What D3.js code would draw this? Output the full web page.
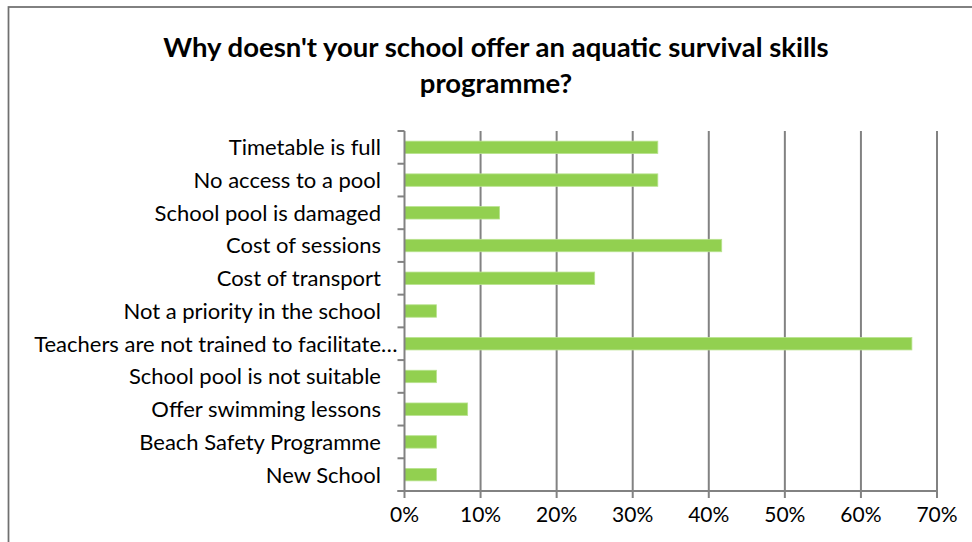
<!DOCTYPE html>
<html>
<head>
<meta charset="utf-8">
<script src="https://cdn.jsdelivr.net/npm/d3@7"></script>
<style>
  html, body { margin: 0; padding: 0; background: #fff; }
  svg { display: block; }
  text { font-family: Lato, "Open Sans", sans-serif; fill: #000; }
</style>
</head>
<body>
<svg id="chart" width="972" height="542"></svg>
<script>
// Survey responses: reasons schools give for not running the programme
const categories = [
  "Timetable is full",
  "No access to a pool",
  "School pool is damaged",
  "Cost of sessions",
  "Cost of transport",
  "Not a priority in the school",
  "Teachers are not trained to facilitate\u2026",
  "School pool is not suitable",
  "Offer swimming lessons",
  "Beach Safety Programme",
  "New School"
];
const shares = [33.3, 33.3, 12.5, 41.7, 25.0, 4.2, 66.7, 4.2, 8.3, 4.2, 4.2];
const xTicks = [0, 10, 20, 30, 40, 50, 60, 70];
const titleLines = [
  "Why doesn't your school offer an aquatic survival skills",
  "programme?"
];

const svg = d3.select("#chart");
const W = 972, H = 542;
const plot = { left: 404.5, right: 937, top: 131, bottom: 491 };
const labelRight = 381;

// outer chart frame
svg.append("rect")
  .attr("x", 8.5).attr("y", 7)
  .attr("width", W + 10).attr("height", H + 10)
  .attr("fill", "#fff")
  .attr("stroke", "#707070").attr("stroke-width", 1.75);

// title
svg.append("g").selectAll("text")
  .data(titleLines)
  .join("text")
  .attr("x", 496)
  .attr("y", (d, i) => 57 + i * 36)
  .attr("text-anchor", "middle")
  .attr("font-weight", "bold")
  .attr("font-size", 27.5)
  .text(d => d);

const x = d3.scaleLinear().domain([0, 70]).range([plot.left, plot.right]);
const y = d3.scaleBand().domain(categories).range([plot.top, plot.bottom])
  .paddingInner(0.62).paddingOuter(0.31);

// vertical gridlines
svg.append("g").selectAll("line")
  .data(xTicks.slice(1))
  .join("line")
  .attr("x1", d => x(d)).attr("x2", d => x(d))
  .attr("y1", plot.top).attr("y2", plot.bottom)
  .attr("stroke", "#828282").attr("stroke-width", 2);

// bars
svg.append("g").selectAll("rect")
  .data(categories.map((c, i) => ({ c, v: shares[i] })))
  .join("rect")
  .attr("x", x(0))
  .attr("y", d => y(d.c))
  .attr("width", d => x(d.v) - x(0))
  .attr("height", y.bandwidth())
  .attr("fill", "#92D050")
  .attr("stroke", "#B9E38F").attr("stroke-width", 0.8);

// category axis (ticks on band boundaries)
const yAxis = svg.append("g");
const bandEdges = d3.range(categories.length + 1)
  .map(i => plot.top + i * (plot.bottom - plot.top) / categories.length);
yAxis.append("line")
  .attr("x1", plot.left).attr("x2", plot.left)
  .attr("y1", plot.top).attr("y2", plot.bottom)
  .attr("stroke", "#828282").attr("stroke-width", 2);
yAxis.selectAll("line.tick")
  .data(bandEdges)
  .join("line").attr("class", "tick")
  .attr("x1", plot.left - 7).attr("x2", plot.left)
  .attr("y1", d => d).attr("y2", d => d)
  .attr("stroke", "#828282").attr("stroke-width", 2);

// labels: a truncated label keeps its text right-aligned and lets the ellipsis hang past the edge
const labels = yAxis.selectAll("g.label")
  .data(categories)
  .join("g").attr("class", "label")
  .attr("transform", d => `translate(0,${y(d) + y.bandwidth() / 2})`);
labels.append("text")
  .attr("x", labelRight)
  .attr("dy", "0.36em")
  .attr("text-anchor", "end")
  .attr("font-size", 22)
  .text(d => d.replace(/\u2026$/, ""));
labels.filter(d => d.endsWith("\u2026"))
  .append("text")
  .attr("x", labelRight)
  .attr("dy", "0.36em")
  .attr("font-size", 22)
  .text("\u2026");

// value axis
const xAxis = svg.append("g");
xAxis.append("line")
  .attr("x1", plot.left - 7).attr("x2", plot.right)
  .attr("y1", plot.bottom).attr("y2", plot.bottom)
  .attr("stroke", "#828282").attr("stroke-width", 2);
xAxis.selectAll("line.tick")
  .data(xTicks)
  .join("line").attr("class", "tick")
  .attr("x1", d => x(d)).attr("x2", d => x(d))
  .attr("y1", plot.bottom).attr("y2", plot.bottom + 7)
  .attr("stroke", "#828282").attr("stroke-width", 2);
xAxis.selectAll("text")
  .data(xTicks)
  .join("text")
  .attr("x", d => x(d))
  .attr("y", 522)
  .attr("text-anchor", "middle")
  .attr("font-size", 21)
  .text(d => d + "%");
</script>
</body>
</html>
